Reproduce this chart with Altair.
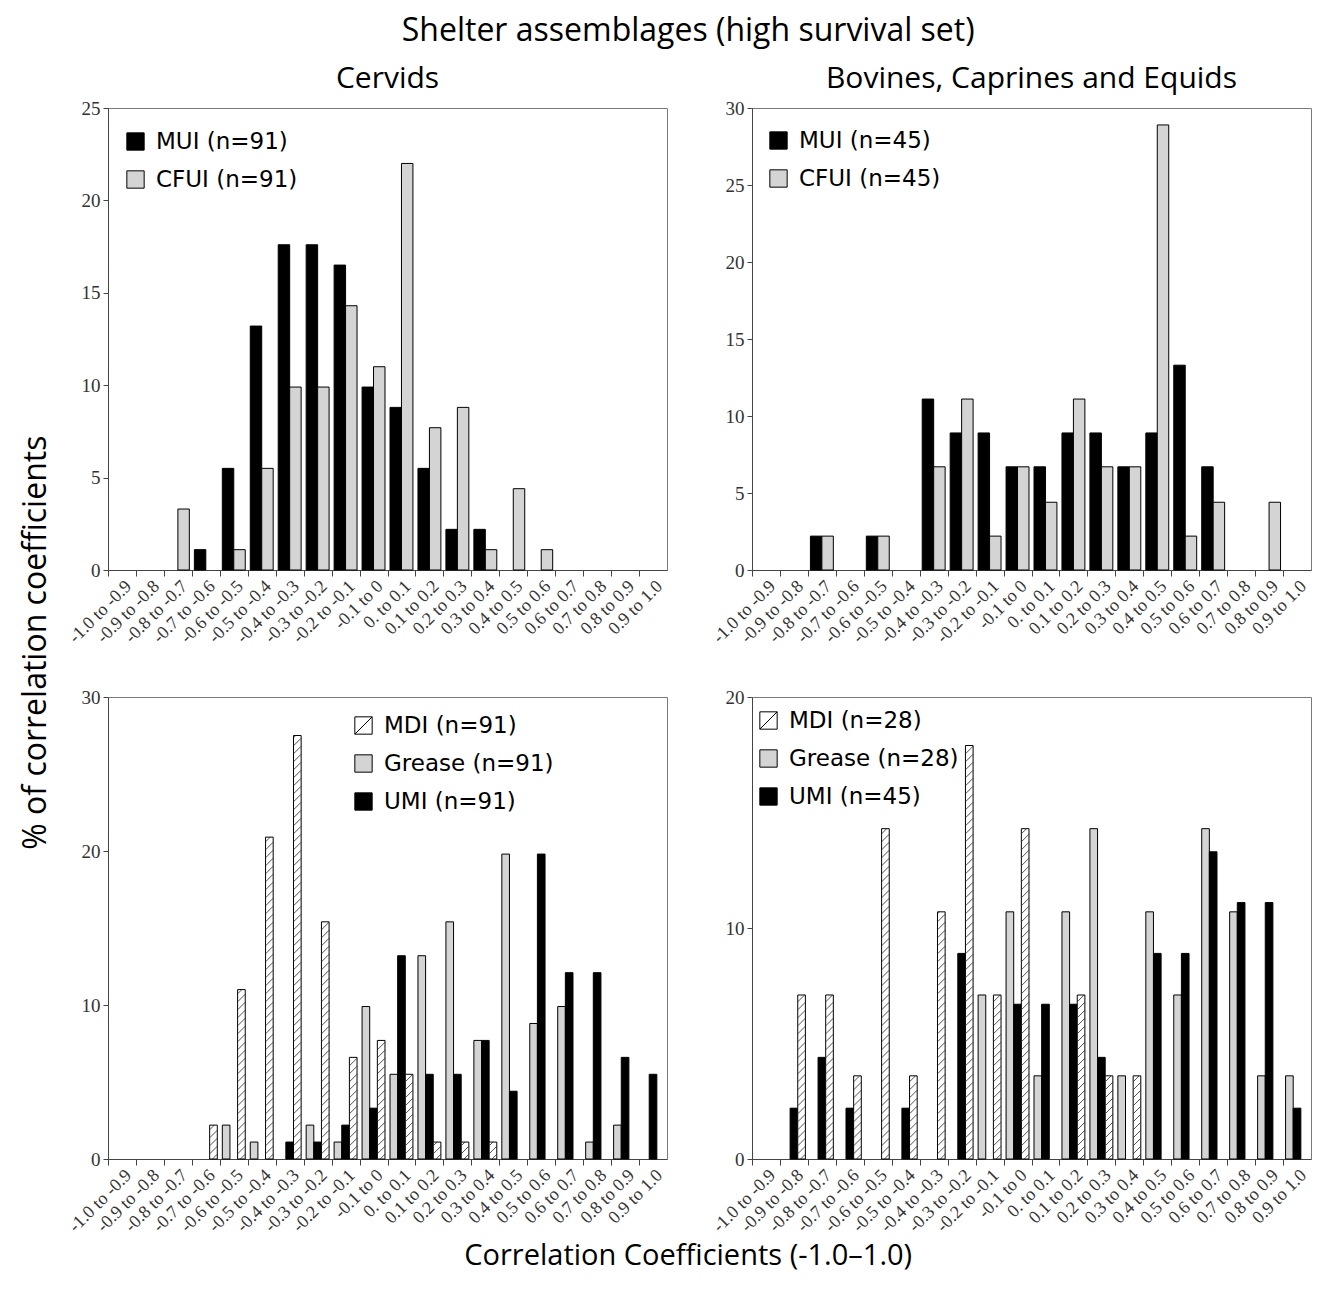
import altair as alt
import pandas as pd

# ---------------- data (percent of correlation coefficients per bin) ----------------
CATS = ["-1.0 to -0.9", "-0.9 to -0.8", "-0.8 to -0.7", "-0.7 to -0.6", "-0.6 to -0.5",
        "-0.5 to -0.4", "-0.4 to -0.3", "-0.3 to -0.2", "-0.2 to -0.1", "-0.1 to 0",
        "0. to 0.1", "0.1 to 0.2", "0.2 to 0.3", "0.3 to 0.4", "0.4 to 0.5",
        "0.5 to 0.6", "0.6 to 0.7", "0.7 to 0.8", "0.8 to 0.9", "0.9 to 1.0"]

# Cervids, top panel
A_MUI = [0, 0, 0, 1.1, 5.5, 13.2, 17.6, 17.6, 16.5, 9.9, 8.8, 5.5, 2.2, 2.2, 0, 0, 0, 0, 0, 0]
A_CFUI = [0, 0, 3.3, 0, 1.1, 5.5, 9.9, 9.9, 14.3, 11.0, 22.0, 7.7, 8.8, 1.1, 4.4, 1.1, 0, 0, 0, 0]
# Bovines, Caprines and Equids, top panel
B_MUI = [0, 0, 2.2, 0, 2.2, 0, 11.1, 8.9, 8.9, 6.7, 6.7, 8.9, 8.9, 6.7, 8.9, 13.3, 6.7, 0, 0, 0]
B_CFUI = [0, 0, 2.2, 0, 2.2, 0, 6.7, 11.1, 2.2, 6.7, 4.4, 11.1, 6.7, 6.7, 28.9, 2.2, 4.4, 0, 4.4, 0]
# Cervids, bottom panel
C_GREASE = [0, 0, 0, 0, 2.2, 1.1, 0, 2.2, 1.1, 9.9, 5.5, 13.2, 15.4, 7.7, 19.8, 8.8, 9.9, 1.1, 2.2, 0]
C_UMI = [0, 0, 0, 0, 0, 0, 1.1, 1.1, 2.2, 3.3, 13.2, 5.5, 5.5, 7.7, 4.4, 19.8, 12.1, 12.1, 6.6, 5.5]
C_MDI = [0, 0, 0, 2.2, 11.0, 20.9, 27.5, 15.4, 6.6, 7.7, 5.5, 1.1, 1.1, 1.1, 0, 0, 0, 0, 0, 0]
# Bovines, Caprines and Equids, bottom panel
D_GREASE = [0, 0, 0, 0, 0, 0, 0, 0, 7.1, 10.7, 3.6, 10.7, 14.3, 3.6, 10.7, 7.1, 14.3, 10.7, 3.6, 3.6]
D_UMI = [0, 2.2, 4.4, 2.2, 0, 2.2, 0, 8.9, 0, 6.7, 6.7, 6.7, 4.4, 0, 8.9, 8.9, 13.3, 11.1, 11.1, 2.2]
D_MDI = [0, 7.1, 7.1, 3.6, 14.3, 3.6, 10.7, 17.9, 7.1, 14.3, 0, 7.1, 3.6, 3.6, 0, 0, 0, 0, 0, 0]

# ---------------- styling ----------------
BLACK, GREY, WHITE = "#000000", "#d4d4d4", "#ffffff"
TITLE_FONT = "Open Sans"
SERIF = "Liberation Serif"
LEG_FONT = "DejaVu Sans"
W, H = 559, 462
NB = len(CATS)
PX = W / NB
HATCH_PATH = "M-1,-1H1V1H-1Z M-1,1L1,-1"

ARR = "[" + ",".join("'%s'" % c for c in CATS) + "]"
XLABEL_EXPR = "%s[datum.value]" % ARR


def panel(bar_series, legend_series, ymax, ystep, lx, ly, title=None):
    n = len(bar_series)
    group = 0.82
    bw = group / n
    ppy = H / ymax
    bars, hatch = [], []
    for si, (lab, vals, hatched) in enumerate(bar_series):
        for k, v in enumerate(vals):
            if v <= 0:
                continue
            x0 = k + (1 - group) / 2 + si * bw
            x1 = x0 + bw
            bars.append({"series": lab, "x0": x0, "x1": x1, "v": v, "z": 0})
            if hatched:
                rise = bw * PX / ppy
                step = 8.0 / ppy
                b = -rise + step * 0.6
                while b < v:
                    xs, ys, xe, ye = x0, b, x1, b + rise
                    if ys < 0:
                        xs = x0 + (-b) / rise * bw
                        ys = 0
                    if ye > v:
                        xe = x0 + (v - b) / rise * bw
                        ye = v
                    if xe > xs:
                        hatch.append({"hx0": xs, "hx1": xe, "hy0": ys, "hy1": ye})
                    b += step

    xscale = alt.Scale(domain=[0, NB], nice=False, zero=False)
    yscale = alt.Scale(domain=[0, ymax], nice=False)
    xaxis = alt.Axis(values=list(range(NB)), labelExpr=XLABEL_EXPR, labelOffset=PX / 2,
                     labelAngle=-45, labelFont=SERIF, labelFontSize=18, labelColor="#333",
                     tickSize=6, tickColor="#444", domainColor="#444", labelPadding=1,
                     grid=False, title=None, labelOverlap=False, labelBound=False)
    yaxis = alt.Axis(values=list(range(0, ymax + 1, ystep)), labelFont=SERIF, labelFontSize=19,
                     labelColor="#333", tickSize=5, tickColor="#444", domainColor="#444",
                     labelPadding=3, grid=False, title=None)
    legend = alt.Legend(orient="none", legendX=lx, legendY=ly, title=None,
                        symbolSize=300, symbolStrokeColor="black", symbolStrokeWidth=1,
                        symbolOpacity=1, labelFont=LEG_FONT, labelFontSize=23, labelColor="black",
                        labelLimit=400, rowPadding=14, labelOffset=9, padding=0)
    labels = [s[0] for s in legend_series]
    fill_scale = alt.Scale(domain=labels, range=[s[1] for s in legend_series])
    shape_scale = alt.Scale(domain=labels, range=[HATCH_PATH if s[2] else "square" for s in legend_series])
    stroke_scale = alt.Scale(domain=labels, range=["#000000"] * len(labels))

    df = pd.DataFrame(bars)
    bar_layer = alt.Chart(df).mark_rect(stroke="black", strokeWidth=1).encode(
        x=alt.X("x0:Q", scale=xscale, axis=xaxis),
        x2="x1",
        y=alt.Y("v:Q", scale=yscale, axis=yaxis),
        y2="z",
        fill=alt.Fill("series:N", scale=fill_scale, legend=legend),
    )
    # legend-only layer (no rows survive the filter): gives the legend its square / hatched symbols
    key_layer = alt.Chart(df).transform_filter("false").mark_point(
        filled=True, strokeWidth=1, opacity=1, size=300).encode(
        x=alt.X("x0:Q", scale=xscale, axis=xaxis),
        y=alt.Y("v:Q", scale=yscale, axis=yaxis),
        fill=alt.Fill("series:N", scale=fill_scale, legend=legend),
        shape=alt.Shape("series:N", scale=shape_scale, legend=legend),
        stroke=alt.Stroke("series:N", scale=stroke_scale, legend=legend),
    )
    layers = [bar_layer]
    if hatch:
        hatch_layer = alt.Chart(pd.DataFrame(hatch)).mark_rule(color="#222", strokeWidth=0.8).encode(
            x=alt.X("hx0:Q", scale=xscale, axis=xaxis),
            x2="hx1",
            y=alt.Y("hy0:Q", scale=yscale, axis=yaxis),
            y2="hy1",
        )
        layers.append(hatch_layer)
    layers.append(key_layer)
    props = dict(width=W, height=H)
    if title:
        props["title"] = alt.Title(title, font=TITLE_FONT, fontSize=30, fontWeight="normal",
                                   color="black", offset=5, anchor="middle")
    return alt.layer(*layers).properties(**props)


p1 = panel([("MUI (n=91)", A_MUI, False), ("CFUI (n=91)", A_CFUI, False)],
           [("MUI (n=91)", BLACK, False), ("CFUI (n=91)", GREY, False)], 25, 5, 16, 22, title="Cervids")
p2 = panel([("MUI (n=45)", B_MUI, False), ("CFUI (n=45)", B_CFUI, False)],
           [("MUI (n=45)", BLACK, False), ("CFUI (n=45)", GREY, False)], 30, 5, 15, 21,
           title="Bovines, Caprines and Equids")
p3 = panel([("Grease (n=91)", C_GREASE, False), ("UMI (n=91)", C_UMI, False), ("MDI (n=91)", C_MDI, True)],
           [("MDI (n=91)", WHITE, True), ("Grease (n=91)", GREY, False), ("UMI (n=91)", BLACK, False)],
           30, 10, 244, 17)
p4 = panel([("Grease (n=28)", D_GREASE, False), ("UMI (n=45)", D_UMI, False), ("MDI (n=28)", D_MDI, True)],
           [("MDI (n=28)", WHITE, True), ("Grease (n=28)", GREY, False), ("UMI (n=45)", BLACK, False)],
           20, 10, 5, 12)

IND = dict(fill="independent", shape="independent", stroke="independent",
           x="independent", y="independent")
row1 = alt.hconcat(p1, p2, spacing=40).resolve_scale(**IND)
row2 = alt.hconcat(p3, p4, spacing=40).resolve_scale(**IND)
grid = alt.vconcat(row1, row2, spacing=40).resolve_scale(**IND)

with_top = alt.vconcat(grid, title=alt.Title("Shelter assemblages (high survival set)", font=TITLE_FONT,
                                              fontSize=32, fontWeight="normal", color="black",
                                              anchor="middle", offset=16))
with_bottom = alt.vconcat(with_top, title=alt.Title("Correlation Coefficients (-1.0\u20131.0)", font=TITLE_FONT,
                                                     fontSize=29, fontWeight="normal", color="black",
                                                     anchor="middle", orient="bottom", offset=6))
chart = alt.vconcat(with_bottom, title=alt.Title("% of correlation coefficients", font=TITLE_FONT,
                                                 fontSize=32, fontWeight="normal", color="black",
                                                 anchor="middle", orient="left", offset=12)
                    ).properties(padding={"left": 11, "top": 6, "right": 0, "bottom": 4}
                    ).configure_view(stroke="#7a7a7a", strokeWidth=1
                    ).configure_concat(spacing=0)

chart.save("out.html", embed_options={"renderer": "svg", "actions": False})
